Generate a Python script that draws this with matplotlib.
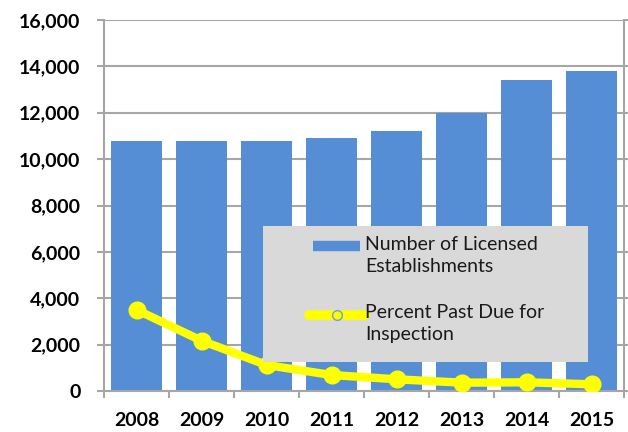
import matplotlib
matplotlib.use("Agg")
import matplotlib.pyplot as plt
from matplotlib.patches import Rectangle
from matplotlib.lines import Line2D

# values
years = ["2008", "2009", "2010", "2011", "2012", "2013", "2014", "2015"]
establishments = [10800, 10800, 10800, 10900, 11200, 12000, 13400, 13800]
past_due = [3500, 2170, 1120, 690, 505, 360, 375, 290]
y_ticks = [0, 2000, 4000, 6000, 8000, 10000, 12000, 14000, 16000]
legend_labels = ["Number of Licensed\nEstablishments", "Percent Past Due for\nInspection"]

bar_color = "#558ed5"
line_color = "#ffff00"
grid_color = "#a6a6a6"

plt.rcParams["font.family"] = ["Lato", "DejaVu Sans"]

W, H = 628, 432
fig = plt.figure(figsize=(W / 100, H / 100), dpi=100)
ax = fig.add_axes([104 / W, 1 - 391 / H, 520 / W, 371 / H])


def px(x, y):
    # pixel position (from top left) -> figure fraction
    return x / W, 1 - y / H


x = list(range(len(years)))
ax.bar(x, establishments, width=0.77, color=bar_color, zorder=2)
ax.plot(x, past_due, color=line_color, linewidth=6, marker="o", markersize=12,
        markerfacecolor=line_color, markeredgecolor=line_color, zorder=3,
        solid_capstyle="round")

ax.set_xlim(-0.5, len(years) - 0.5)
ax.set_ylim(0, 16000)
ax.set_yticks(y_ticks)
ax.set_yticklabels([f"{v:,}" for v in y_ticks], fontsize=14, fontweight="bold")
ax.yaxis.grid(True, color=grid_color, linewidth=1.5, zorder=0)
ax.set_axisbelow(True)

# category labels in the middle, tick marks on the boundaries
ax.set_xticks(x)
ax.set_xticklabels(years, fontsize=14, fontweight="bold")
ax.tick_params(axis="x", length=0, pad=15)
ax.set_xticks([i - 0.5 for i in range(len(years) + 1)], minor=True)
ax.tick_params(axis="x", which="minor", length=5, color=grid_color, width=1.5)
ax.tick_params(axis="y", length=5, color=grid_color, width=1.5, pad=12, right=True)

ax.spines["top"].set_visible(False)
for side in ["left", "bottom", "right"]:
    ax.spines[side].set_color(grid_color)
    ax.spines[side].set_linewidth(1.5)

# legend box drawn by hand so the keys sit on the first text line
x0, y0 = px(263, 362)
x1, y1 = px(588, 226)
fig.patches.append(Rectangle((x0, y0), x1 - x0, y1 - y0, transform=fig.transFigure,
                             facecolor="#d9d9d9", edgecolor="none", zorder=5))

kx0, ky = px(313, 246)
kx1, _ = px(360, 246)
fig.lines.append(Line2D([kx0, kx1], [ky, ky], transform=fig.transFigure,
                        color=bar_color, linewidth=7.5, solid_capstyle="butt", zorder=6))
kx0, ky = px(309, 315)
kx1, _ = px(365, 315)
mx, _ = px(337, 315)
fig.lines.append(Line2D([kx0, kx1], [ky, ky], transform=fig.transFigure,
                        color=line_color, linewidth=7, solid_capstyle="round", zorder=6))
fig.lines.append(Line2D([mx], [ky], transform=fig.transFigure, marker="o",
                        markersize=7, markerfacecolor=line_color,
                        markeredgecolor="#6f9fd8", markeredgewidth=1, zorder=7))

for label, ty in zip(legend_labels, [236, 304]):
    tx, tyf = px(365, ty)
    fig.text(tx, tyf, label, fontsize=14, va="top", ha="left",
             linespacing=1.35, color="#1a1a1a", zorder=8)

fig.savefig("out.png", dpi=100)
